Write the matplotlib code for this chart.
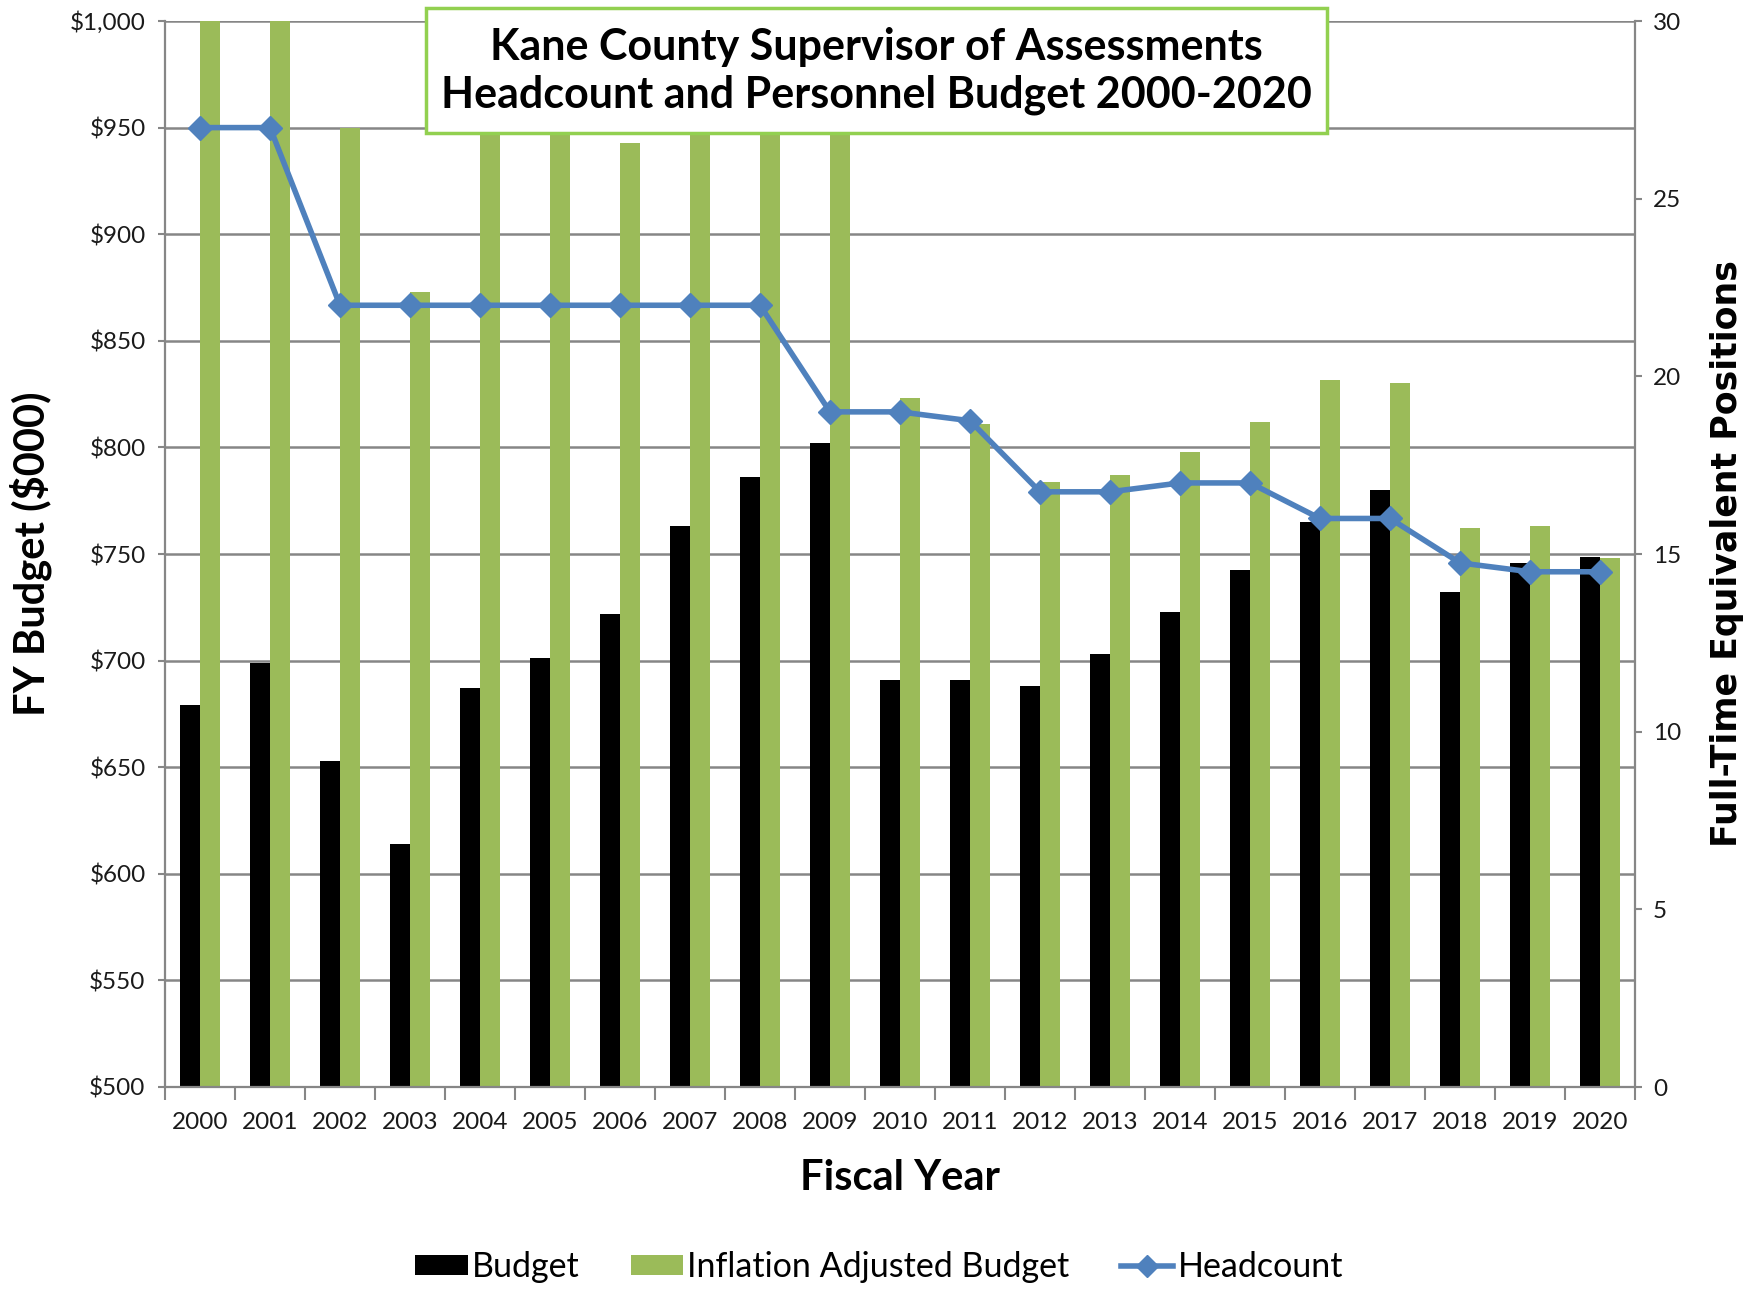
import matplotlib

matplotlib.use('agg')

import matplotlib.pyplot as plt
import numpy as np
from matplotlib.lines import Line2D
from matplotlib.patches import Patch, Rectangle

plt.rcParams['font.family'] = ['Lato', 'DejaVu Sans']

years = list(range(2000, 2021))
budget = [679, 699, 653, 614, 687, 701, 722, 763, 786, 802, 691,
          691, 688, 703, 723, 742.5, 765, 780, 732, 746, 748.5]
inflation_adj = [1033, 1032, 950, 873, 953, 955, 943, 964, 956, 979, 823,
                 811, 784, 787, 798, 812, 831.5, 830, 762, 763, 748]
headcount = [27, 27, 22, 22, 22, 22, 22, 22, 22, 19, 19,
             18.75, 16.75, 16.75, 17, 17, 16, 16, 14.75, 14.5, 14.5]

left_ticks = list(range(500, 1001, 50))
right_ticks = list(range(0, 31, 5))

GREEN = '#9BBB59'
BLUE = '#4F81BD'
GRID = '#868686'
TXT = '#1a1a1a'

W, H = 1753, 1299
fig = plt.figure(figsize=(W / 100, H / 100), dpi=100)
ax = fig.add_axes([165 / W, 1 - 1087 / H, (1635 - 165) / W, (1087 - 21) / H])

x = np.arange(len(years))
bw = 0.285
ax.bar(x - bw / 2, [b - 500 for b in budget], bw, bottom=500, color='black', zorder=2)
ax.bar(x + bw / 2, [b - 500 for b in inflation_adj], bw, bottom=500, color=GREEN, zorder=2)

ax.set_xlim(-0.5, len(years) - 0.5)
ax.set_ylim(500, 1000)
ax.set_yticks(left_ticks)
ax.set_yticklabels([f'${v:,}' for v in left_ticks])
ax.set_xticks(x)
ax.set_xticklabels([str(y) for y in years])
ax.set_xticks(np.arange(-0.5, len(years)), minor=True)
ax.yaxis.grid(True, color=GRID, linewidth=1.8, zorder=0)
ax.set_axisbelow(True)

for s in ax.spines.values():
    s.set_color(GRID)
    s.set_linewidth(1.6)
ax.spines['top'].set_visible(False)

ax.tick_params(axis='x', which='major', length=0, pad=18, labelsize=17.5, labelcolor=TXT)
ax.tick_params(axis='x', which='minor', length=9, width=1.5, color=GRID)
ax.tick_params(axis='y', length=5, width=1.5, color=GRID, pad=9, labelsize=17.5, labelcolor=TXT)

ax.set_xlabel('Fiscal Year', fontsize=30, fontweight='bold', labelpad=19)
ax.set_ylabel('FY Budget ($000)', fontsize=30, fontweight='bold')
ax.yaxis.set_label_coords(-(165 - 52) / (1635 - 165), 0.5)

ax2 = ax.twinx()
ax2.plot(x, headcount, color=BLUE, linewidth=4, marker='D', markersize=12.5, zorder=5)
ax2.set_ylim(0, 30)
ax2.set_yticks(right_ticks)
ax2.tick_params(axis='y', length=5, width=1.5, color=GRID, pad=8, labelsize=17.5, labelcolor=TXT)
for s in ax2.spines.values():
    s.set_visible(False)
ax2.set_ylabel('Full-Time Equivalent Positions', fontsize=25, fontweight='bold',
               family='DejaVu Sans')
ax2.yaxis.set_label_coords(1 + (1710 - 1635) / (1635 - 165), 0.5)

# title box
fig.add_artist(Rectangle((426 / W, 1 - 133 / H), (1327 - 426) / W, (133 - 8) / H,
                         transform=fig.transFigure, facecolor='white',
                         edgecolor='#92D050', linewidth=2.5, zorder=10))
fig.text(876 / W, 1 - 71 / H,
         'Kane County Supervisor of Assessments\nHeadcount and Personnel Budget 2000-2020',
         ha='center', va='center', fontsize=31, fontweight='bold', linespacing=1.25,
         zorder=11)

handles = [
    Patch(facecolor='black', label='Budget'),
    Patch(facecolor=GREEN, label='Inflation Adjusted Budget'),
    Line2D([], [], color=BLUE, linewidth=4, marker='D', markersize=11, label='Headcount'),
]
fig.legend(handles=handles, loc='center', bbox_to_anchor=(879 / W, 1 - 1267 / H),
           ncol=3, frameon=False, fontsize=24.5, handlelength=1.55, handleheight=0.55,
           handletextpad=0.12, columnspacing=1.5)

fig.savefig('out.png', dpi=100)
